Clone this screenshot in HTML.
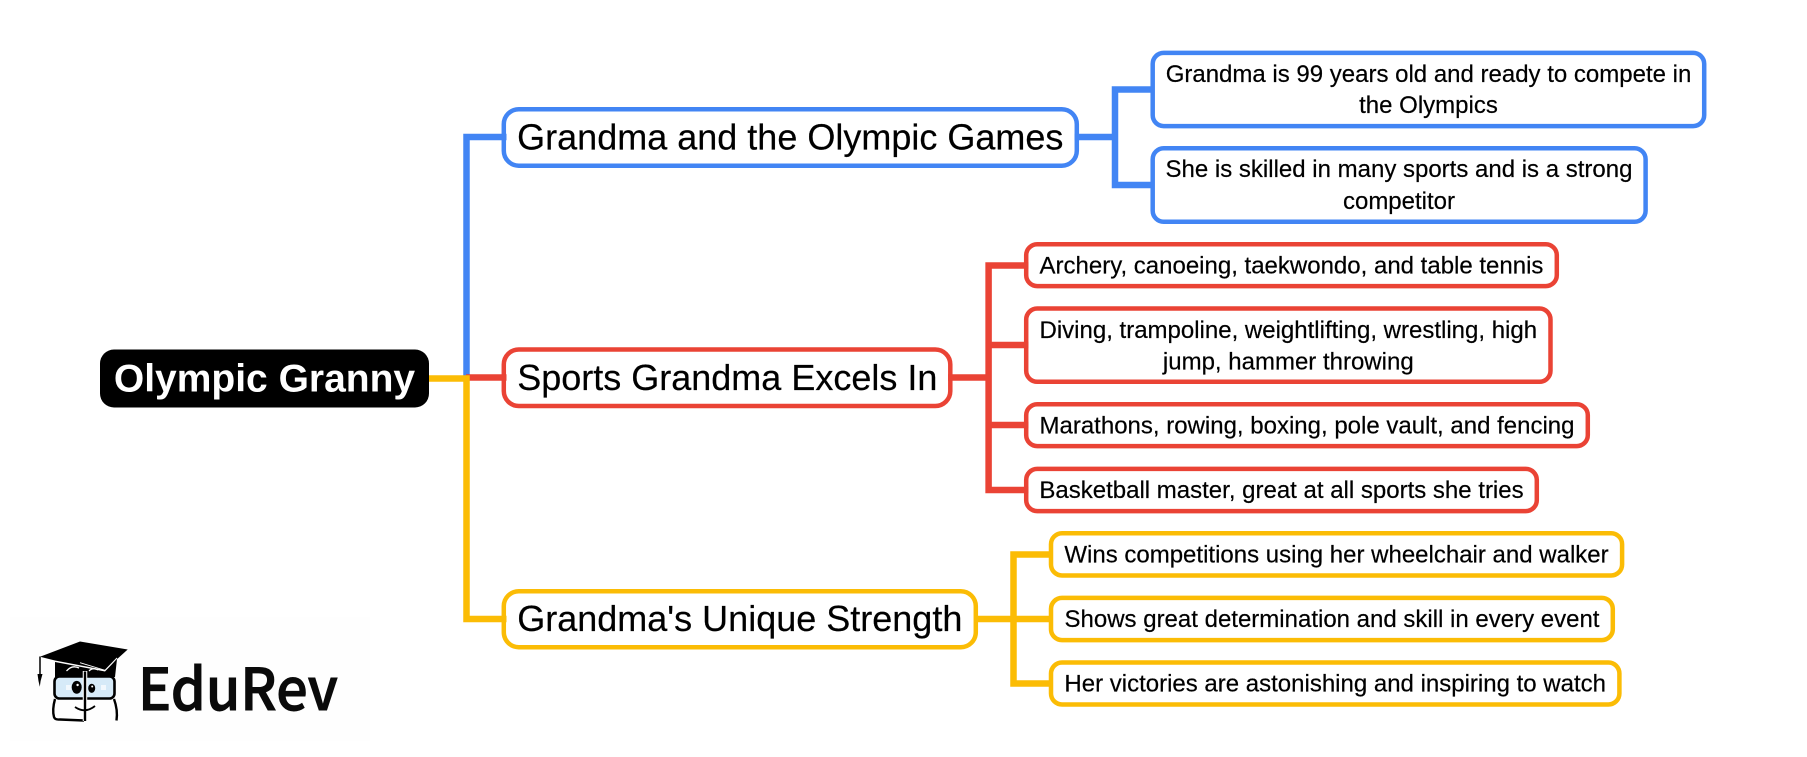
<!DOCTYPE html>
<html>
<head>
<meta charset="utf-8">
<style>
html,body{margin:0;padding:0;background:#fff;width:1807px;height:757px;overflow:hidden}
svg{display:block}
text{font-family:"Liberation Sans",sans-serif;fill:#000}
.r{font-size:39px;font-weight:bold;fill:#fff}
.b{font-size:36px;stroke:#000;stroke-width:.2}
.c{font-size:24px;stroke:#000;stroke-width:.2}
.n{fill:#fff;stroke-width:4.5}
.l{fill:none;stroke-width:6.5}
.bl{stroke:#4285f4}
.rd{stroke:#ea4335}
.ye{stroke:#fbbc05}
</style>
</head>
<body>
<svg width="1807" height="757" viewBox="0 0 1807 757" xmlns="http://www.w3.org/2000/svg">
<rect width="1807" height="757" fill="#fff"/>
<rect x="10" y="617" width="360" height="124" fill="#fefefe"/>

<!-- nodes -->
<rect x="100" y="349.5" width="329" height="58" rx="14" fill="#000"/>

<rect class="n bl" x="503.8" y="109.2" width="573" height="56.5" rx="15"/>
<rect class="n rd" x="503.8" y="349.5" width="446.5" height="56.5" rx="15"/>
<rect class="n ye" x="503.8" y="591.2" width="472" height="56" rx="15"/>

<rect class="n bl" x="1152.7" y="52.9" width="551.5" height="73.2" rx="11"/>
<rect class="n bl" x="1152.7" y="148.2" width="492.9" height="73.6" rx="11"/>

<rect class="n rd" x="1026.2" y="244.2" width="530.6" height="41.9" rx="11"/>
<rect class="n rd" x="1026.2" y="308.5" width="524.3" height="73.3" rx="11"/>
<rect class="n rd" x="1026.2" y="404.2" width="561.6" height="41.9" rx="11"/>
<rect class="n rd" x="1026.2" y="468.9" width="510.6" height="42.2" rx="11"/>

<rect class="n ye" x="1051" y="533.2" width="571.1" height="42.3" rx="11"/>
<rect class="n ye" x="1051" y="597.9" width="561.8" height="42.2" rx="11"/>
<rect class="n ye" x="1051" y="662.5" width="568.4" height="42" rx="11"/>

<!-- connectors -->
<path class="l bl" d="M506.5 137H466.5V377"/>
<path class="l bl" d="M1074.5 137H1115M1154.5 89.5H1115V185H1154.5"/>
<path class="l rd" d="M466 377.5H506.5"/>
<path class="l rd" d="M948 377.5H988.6M1028.5 265.5H988.6V490H1028.5M988.6 345H1028.5M988.6 425H1028.5"/>
<path class="l ye" d="M429 378.5H466.5V619H506.5"/>
<path class="l ye" d="M974 619H1013.5M1053 554.5H1013.5V683.5H1053M1013.5 619H1053"/>

<!-- labels -->
<text class="r" x="264.5" y="391.5" text-anchor="middle">Olympic Granny</text>
<text class="b" x="790.3" y="149.7" text-anchor="middle">Grandma and the Olympic Games</text>
<text class="b" x="727.3" y="390" text-anchor="middle">Sports Grandma Excels In</text>
<text class="b" x="739.8" y="630.8" text-anchor="middle">Grandma's Unique Strength</text>

<text class="c" x="1428.5" y="81.8" text-anchor="middle">Grandma is 99 years old and ready to compete in</text>
<text class="c" x="1428.5" y="112.8" text-anchor="middle">the Olympics</text>
<text class="c" x="1399" y="177" text-anchor="middle">She is skilled in many sports and is a strong</text>
<text class="c" x="1399" y="208.8" text-anchor="middle">competitor</text>

<text class="c" x="1291.5" y="273.5" text-anchor="middle">Archery, canoeing, taekwondo, and table tennis</text>
<text class="c" x="1288.3" y="337.8" text-anchor="middle">Diving, trampoline, weightlifting, wrestling, high</text>
<text class="c" x="1288.3" y="369.3" text-anchor="middle">jump, hammer throwing</text>
<text class="c" x="1307" y="433.5" text-anchor="middle">Marathons, rowing, boxing, pole vault, and fencing</text>
<text class="c" x="1281.5" y="497.8" text-anchor="middle">Basketball master, great at all sports she tries</text>

<text class="c" x="1336.5" y="562.5" text-anchor="middle">Wins competitions using her wheelchair and walker</text>
<text class="c" x="1332" y="626.8" text-anchor="middle">Shows great determination and skill in every event</text>
<text class="c" x="1335.2" y="691.5" text-anchor="middle">Her victories are astonishing and inspiring to watch</text>

<!-- logo -->
<g>
<polygon points="55,662 105,671.5 117,659 115,677 55,677" fill="#000"/>
<polygon points="40,656.7 80,641.5 127.7,649.5 105,670 55,660.5" fill="#000"/>
<path d="M80,662.7L105,670.3L117,658" fill="none" stroke="#fff" stroke-width=".9"/>
<path d="M66.5,671 Q72,664.5 79,668" fill="none" stroke="#fff" stroke-width="1.3"/>
<path d="M89,671 Q93,667 98,670" fill="none" stroke="#fff" stroke-width="1.3"/>
<path d="M40,656.5V675" stroke="#000" stroke-width="1.5"/>
<polygon points="37.5,674 42.5,674 40.6,681 39.8,686.7 38.5,681" fill="#000"/>
<rect x="54.5" y="676.5" width="60" height="22" rx="5" fill="#d6eaf8" stroke="#000" stroke-width="2.6"/>
<path d="M55,699 Q52,710 54,717 Q55,720 60,719.5 L84,720.5 M114,699 Q118,710 116.5,720.5" fill="none" stroke="#000" stroke-width="2.4"/>
<path d="M85,671V721" stroke="#fff" stroke-width="4.5"/>
<path d="M85,671.5V721" stroke="#000" stroke-width="2.4"/>
<ellipse cx="76.7" cy="687.3" rx="5" ry="6.4" fill="#000"/>
<ellipse cx="91.7" cy="688.3" rx="3.5" ry="4.6" fill="#000"/>
<circle cx="77.6" cy="685" r="1.2" fill="#fff"/>
<circle cx="92.2" cy="686.5" r="1" fill="#fff"/>
<rect x="66" y="685" width="5" height="5" fill="#f2f8fd"/>
<rect x="101" y="685" width="5" height="5" fill="#f2f8fd"/>
<path d="M75,707 Q85,714 95,706" fill="none" stroke="#000" stroke-width="1.8"/>
<text x="138" y="710" textLength="200" lengthAdjust="spacingAndGlyphs" style="font-family:'Noto Sans CJK SC','Liberation Sans',sans-serif;font-size:58px;font-weight:500;fill:#0a0a0a;stroke:#0a0a0a;stroke-width:.9">EduRev</text>
</g>
</svg>
</body>
</html>
